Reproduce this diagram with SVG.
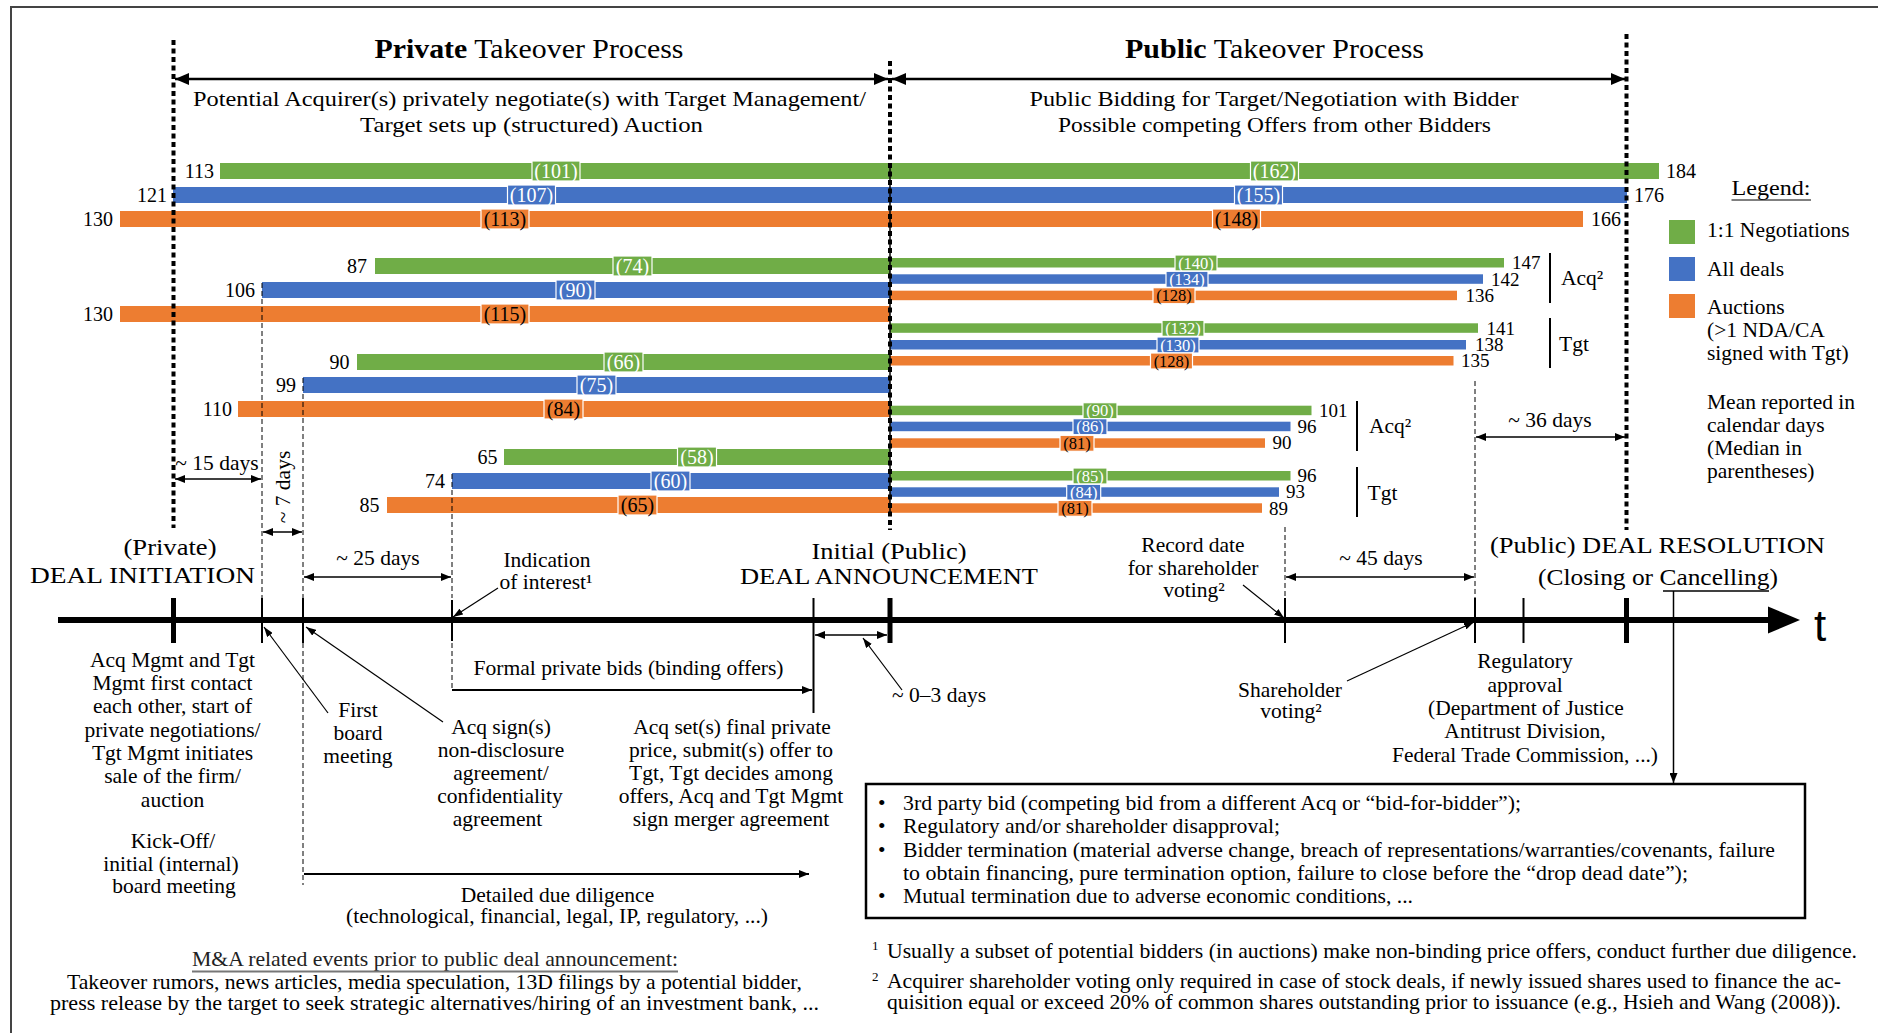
<svg xmlns="http://www.w3.org/2000/svg" width="1878" height="1033" viewBox="0 0 1878 1033">
<defs>
<style>
text{font-family:"Liberation Serif","Times New Roman",serif;font-size:21.5px;fill:#000}
.c{text-anchor:middle}.e{text-anchor:end}
.n{font-size:20px}
.m{font-size:19px}
.s{font-size:16.5px}
.cap{font-size:22.5px}
.ttl{font-size:28px}
.G{fill:#70AD47}.B{fill:#4472C4}.O{fill:#ED7D31}
.lb{stroke:#fff;stroke-width:1.2}
.w{fill:#fff}
.thd{stroke:#000;stroke-width:4;stroke-dasharray:5 3.5;fill:none}
.tnd{stroke:#000;stroke-width:1;stroke-dasharray:5 3;fill:none}
.ln{stroke:#000;fill:none}
</style>
<marker id="a" viewBox="0 0 10 8" refX="10" refY="4" markerWidth="10" markerHeight="8" markerUnits="userSpaceOnUse" orient="auto-start-reverse"><path d="M0,0 L10,4 L0,8 z"/></marker>
<marker id="p" viewBox="0 0 10 7" refX="10" refY="3.5" markerWidth="10" markerHeight="7" markerUnits="userSpaceOnUse" orient="auto-start-reverse"><path d="M0,0 L10,3.5 L0,7 z"/></marker>
<marker id="A" viewBox="0 0 14 12" refX="14" refY="6" markerWidth="14" markerHeight="12" markerUnits="userSpaceOnUse" orient="auto-start-reverse"><path d="M0,0 L14,6 L0,12 z"/></marker>
</defs>
<rect width="1878" height="1033" fill="#fff"/>
<path d="M11,1033 V7 H1878" stroke="#444" stroke-width="2" fill="none"/>

<g id="headers">
<text x="529" y="58" class="c ttl" textLength="309" lengthAdjust="spacingAndGlyphs"><tspan font-weight="bold">Private</tspan> Takeover Process</text>
<text x="1274.5" y="58" class="c ttl" textLength="299" lengthAdjust="spacingAndGlyphs"><tspan font-weight="bold">Public</tspan> Takeover Process</text>
<text x="529.5" y="106" class="c" style="font-size:22px" textLength="673" lengthAdjust="spacingAndGlyphs">Potential Acquirer(s) privately negotiate(s) with Target Management/</text>
<text x="531.5" y="132" class="c" style="font-size:22px" textLength="343" lengthAdjust="spacingAndGlyphs">Target sets up (structured) Auction</text>
<text x="1274" y="106" class="c" style="font-size:22px" textLength="489" lengthAdjust="spacingAndGlyphs">Public Bidding for Target/Negotiation with Bidder</text>
<text x="1274.5" y="132" class="c" style="font-size:22px" textLength="433" lengthAdjust="spacingAndGlyphs">Possible competing Offers from other Bidders</text>
</g>

<g id="bars-all">
<rect class="G" x="220" y="163" width="1439" height="16"/>
<rect class="B" x="173" y="187" width="1454" height="16"/>
<rect class="O" x="120" y="211" width="1463" height="16"/>
<text x="214" y="178" class="e n">113</text>
<text x="167" y="202" class="e n">121</text>
<text x="113" y="226" class="e n">130</text>
<text x="1666" y="178" class="n">184</text>
<text x="1634" y="202" class="n">176</text>
<text x="1591" y="226" class="n">166</text>
<rect class="G lb" x="532" y="161" width="48" height="20"/><text x="556" y="178" class="c n w">(101)</text>
<rect class="B lb" x="507.5" y="185" width="48" height="20"/><text x="531.5" y="202" class="c n w">(107)</text>
<rect class="O lb" x="481" y="209" width="48" height="20"/><text x="505" y="226" class="c n">(113)</text>
<rect class="G lb" x="1250.5" y="161" width="48" height="20"/><text x="1274.5" y="178" class="c n w">(162)</text>
<rect class="B lb" x="1234.5" y="185" width="48" height="20"/><text x="1258.5" y="202" class="c n w">(155)</text>
<rect class="O lb" x="1212.5" y="209" width="48" height="20"/><text x="1236.5" y="226" class="c n">(148)</text>
</g>

<g id="bars-private-acq">
<rect class="G" x="375" y="258" width="515" height="16"/>
<rect class="B" x="262" y="282" width="628" height="16"/>
<rect class="O" x="120" y="306" width="770" height="16"/>
<text x="367" y="273" class="e n">87</text>
<text x="255" y="297" class="e n">106</text>
<text x="113" y="321" class="e n">130</text>
<rect class="G lb" x="613" y="256" width="39" height="20"/><text x="632.5" y="273" class="c n w">(74)</text>
<rect class="B lb" x="556" y="280" width="39" height="20"/><text x="575.5" y="297" class="c n w">(90)</text>
<rect class="O lb" x="481" y="304" width="48" height="20"/><text x="505" y="321" class="c n">(115)</text>
</g>

<g id="bars-private-tgt">
<rect class="G" x="357" y="354" width="533" height="16"/>
<rect class="B" x="303" y="377" width="587" height="16"/>
<rect class="O" x="238" y="401" width="652" height="16"/>
<text x="349.5" y="369" class="e n">90</text>
<text x="296" y="392" class="e n">99</text>
<text x="232" y="416" class="e n">110</text>
<rect class="G lb" x="604" y="352" width="39" height="20"/><text x="623.5" y="369" class="c n w">(66)</text>
<rect class="B lb" x="577" y="375" width="39" height="20"/><text x="596.5" y="392" class="c n w">(75)</text>
<rect class="O lb" x="544" y="399" width="39" height="20"/><text x="563.5" y="416" class="c n">(84)</text>
</g>

<g id="bars-private-last">
<rect class="G" x="504" y="449" width="386" height="16"/>
<rect class="B" x="452" y="473" width="438" height="16"/>
<rect class="O" x="387" y="497" width="503" height="16"/>
<text x="497.5" y="464" class="e n">65</text>
<text x="445" y="488" class="e n">74</text>
<text x="379.5" y="512" class="e n">85</text>
<rect class="G lb" x="677.5" y="447" width="39" height="20"/><text x="697" y="464" class="c n w">(58)</text>
<rect class="B lb" x="651" y="471" width="39" height="20"/><text x="670.5" y="488" class="c n w">(60)</text>
<rect class="O lb" x="618" y="495" width="39" height="20"/><text x="637.5" y="512" class="c n">(65)</text>
</g>

<g id="bars-public-acq1">
<rect class="G" x="890" y="258" width="614" height="9.5"/>
<rect class="B" x="890" y="274.3" width="593" height="9.5"/>
<rect class="O" x="890" y="290.7" width="567" height="9.5"/>
<text x="1512" y="269" class="m">147</text>
<text x="1491" y="285.5" class="m">142</text>
<text x="1465.5" y="302" class="m">136</text>
<rect class="G lb" x="1175" y="255" width="42" height="16"/><text x="1196" y="268.5" class="c s w">(140)</text>
<rect class="B lb" x="1166" y="271.3" width="42" height="16"/><text x="1187" y="284.8" class="c s w">(134)</text>
<rect class="O lb" x="1153" y="287.7" width="42" height="16"/><text x="1174" y="301.2" class="c s">(128)</text>
<path class="ln" stroke-width="2" d="M1550,253 V303"/>
<text x="1561" y="285">Acq²</text>
</g>

<g id="bars-public-tgt1">
<rect class="G" x="890" y="323.3" width="588" height="9.5"/>
<rect class="B" x="890" y="340" width="576" height="9.5"/>
<rect class="O" x="890" y="356" width="563.5" height="9.5"/>
<text x="1486.5" y="334.5" class="m">141</text>
<text x="1475" y="351" class="m">138</text>
<text x="1461" y="367" class="m">135</text>
<rect class="G lb" x="1162" y="320.3" width="42" height="16"/><text x="1183" y="333.8" class="c s w">(132)</text>
<rect class="B lb" x="1157" y="337" width="42" height="16"/><text x="1178" y="350.5" class="c s w">(130)</text>
<rect class="O lb" x="1150.5" y="353" width="42" height="16"/><text x="1171.5" y="366.5" class="c s">(128)</text>
<path class="ln" stroke-width="2" d="M1550,318 V368"/>
<text x="1559" y="351">Tgt</text>
</g>

<g id="bars-public-acq2">
<rect class="G" x="890" y="405.7" width="421.5" height="9.5"/>
<rect class="B" x="890" y="421.7" width="400.5" height="9.5"/>
<rect class="O" x="890" y="438.3" width="375" height="9.5"/>
<text x="1319" y="416.5" class="m">101</text>
<text x="1297.5" y="432.5" class="m">96</text>
<text x="1272.5" y="449" class="m">90</text>
<rect class="G lb" x="1083" y="402.7" width="34" height="16"/><text x="1100" y="416.2" class="c s w">(90)</text>
<rect class="B lb" x="1073" y="418.7" width="34" height="16"/><text x="1090" y="432.2" class="c s w">(86)</text>
<rect class="O lb" x="1060" y="435.3" width="34" height="16"/><text x="1077" y="448.8" class="c s">(81)</text>
<path class="ln" stroke-width="2" d="M1357,401 V451"/>
<text x="1369" y="433">Acq²</text>
</g>

<g id="bars-public-tgt2">
<rect class="G" x="890" y="471" width="400.5" height="9.5"/>
<rect class="B" x="890" y="487.3" width="389" height="9.5"/>
<rect class="O" x="890" y="503.3" width="372" height="9.5"/>
<text x="1297.5" y="482" class="m">96</text>
<text x="1286" y="498" class="m">93</text>
<text x="1269" y="514.5" class="m">89</text>
<rect class="G lb" x="1073" y="468" width="34" height="16"/><text x="1090" y="481.5" class="c s w">(85)</text>
<rect class="B lb" x="1066.7" y="484.3" width="34" height="16"/><text x="1083.7" y="497.8" class="c s w">(84)</text>
<rect class="O lb" x="1058" y="500.3" width="34" height="16"/><text x="1075" y="513.8" class="c s">(81)</text>
<path class="ln" stroke-width="2" d="M1357,467 V517"/>
<text x="1367.5" y="500">Tgt</text>
</g>

<g id="legend">
<text x="1731.5" y="195" style="font-size:22px" textLength="79" lengthAdjust="spacingAndGlyphs">Legend:</text>
<path d="M1731.5,200 H1811" stroke="#000" stroke-width="1.2"/>
<rect class="G" x="1669" y="220" width="26" height="24"/>
<rect class="B" x="1669" y="257" width="26" height="24"/>
<rect class="O" x="1669" y="294" width="26" height="24"/>
<text x="1707" y="237">1:1 Negotiations</text>
<text x="1707" y="276">All deals</text>
<text x="1707" y="314">Auctions</text>
<text x="1707" y="337">(&gt;1 NDA/CA</text>
<text x="1707" y="360">signed with Tgt)</text>
<text x="1707" y="409">Mean reported in</text>
<text x="1707" y="432">calendar days</text>
<text x="1707" y="455">(Median in</text>
<text x="1707" y="478">parentheses)</text>
</g>

<g id="connectors">
<path class="ln" stroke-width="1.5" d="M890,163 V513"/>
<path class="thd" d="M173.5,40 V528"/>
<path class="thd" d="M890,61 V530"/>
<path class="thd" d="M1626.5,34 V530"/>
<path class="ln" stroke-width="2.5" d="M175,79 H888" marker-start="url(#A)" marker-end="url(#A)"/>
<path class="ln" stroke-width="2.5" d="M892,79 H1625" marker-start="url(#A)" marker-end="url(#A)"/>
<path class="tnd" d="M262,283 V598"/>
<path class="tnd" d="M303,378 V598 M303,643 V885"/>
<path class="tnd" d="M452,474 V598 M452,643 V690"/>
<path class="tnd" d="M1285,527 V598"/>
<path class="tnd" d="M1475,381 V598"/>
<path class="ln" stroke-width="1.5" d="M175,479 H261" marker-start="url(#a)" marker-end="url(#a)"/>
<path class="ln" stroke-width="1.5" d="M263,532 H302" marker-start="url(#a)" marker-end="url(#a)"/>
<path class="ln" stroke-width="1.5" d="M304,577 H451" marker-start="url(#a)" marker-end="url(#a)"/>
<path class="ln" stroke-width="1.5" d="M1286,577 H1474" marker-start="url(#a)" marker-end="url(#a)"/>
<path class="ln" stroke-width="1.5" d="M1476,437 H1625" marker-start="url(#a)" marker-end="url(#a)"/>
<path class="ln" stroke-width="1.5" d="M815,635 H887" marker-start="url(#a)" marker-end="url(#a)"/>
<path class="ln" stroke-width="6" d="M58,620 H1772"/>
<path d="M1768,606.5 L1800,620 L1768,633.5 z"/>
<path class="ln" stroke-width="5" d="M173.5,598 V643 M890,598 V643 M1626.5,598 V643"/>
<path class="ln" stroke-width="2" d="M262,598 V643 M303,598 V643 M452,600 V641 M1285,598 V643 M1475,598 V643 M1523.5,598 V643 M813.5,598 V713"/>
<path class="ln" stroke-width="2" d="M452,690 H812" marker-end="url(#a)"/>
<path class="ln" stroke-width="2" d="M304,874 H809" marker-end="url(#a)"/>
<path class="ln" stroke-width="1.2" d="M498,588 L453,617" marker-end="url(#p)"/>
<path class="ln" stroke-width="1.2" d="M328,713 L264,627" marker-end="url(#p)"/>
<path class="ln" stroke-width="1.2" d="M443,722 L306,627" marker-end="url(#p)"/>
<path class="ln" stroke-width="1.2" d="M902,690 L863,638" marker-end="url(#p)"/>
<path class="ln" stroke-width="1.2" d="M1243,585 L1284,618" marker-end="url(#p)"/>
<path class="ln" stroke-width="1.2" d="M1347,681 L1474,622" marker-end="url(#p)"/>
<path class="ln" stroke-width="1.5" d="M1673.5,591 V783" marker-end="url(#a)"/>
</g>

<g id="time-labels">
<text x="1814" y="641" style="font-family:'Liberation Sans',Arial,sans-serif;font-size:44px">t</text>
<text x="217" y="470" class="c">~ 15 days</text>
<text transform="translate(290,487) rotate(-90)" class="c">~ 7 days</text>
<text x="378" y="565" class="c">~ 25 days</text>
<text x="1381" y="565" class="c">~ 45 days</text>
<text x="1550" y="427" class="c">~ 36 days</text>
<text x="892" y="702">~ 0–3 days</text>
</g>

<g id="deal-initiation">
<text x="170" y="555" class="c cap" textLength="93" lengthAdjust="spacingAndGlyphs">(Private)</text>
<text x="142.5" y="583" class="c cap" textLength="225" lengthAdjust="spacingAndGlyphs">DEAL INITIATION</text>
</g>
<g id="indication">
<text x="547" y="567" class="c">Indication</text>
<text x="546" y="589" class="c">of interest¹</text>
</g>
<g id="deal-announcement">
<text x="889" y="559" class="c cap" textLength="155" lengthAdjust="spacingAndGlyphs">Initial (Public)</text>
<text x="889" y="584" class="c cap" textLength="298" lengthAdjust="spacingAndGlyphs">DEAL ANNOUNCEMENT</text>
</g>
<g id="record-date">
<text x="1193" y="552" class="c">Record date</text>
<text x="1193" y="575" class="c">for shareholder</text>
<text x="1194" y="597" class="c">voting²</text>
</g>
<g id="deal-resolution">
<text x="1490" y="553" class="cap" textLength="335" lengthAdjust="spacingAndGlyphs">(Public) DEAL RESOLUTION</text>
<text x="1658" y="585" class="c cap" textLength="240" lengthAdjust="spacingAndGlyphs">(Closing or Cancelling)</text>
<path d="M1663,591 H1769" stroke="#000" stroke-width="1.5"/>
</g>

<g id="first-contact">
<text x="172.5" y="667" class="c">Acq Mgmt and Tgt</text>
<text x="172.5" y="690" class="c">Mgmt first contact</text>
<text x="172.5" y="713" class="c">each other, start of</text>
<text x="172.5" y="737" class="c">private negotiations/</text>
<text x="172.5" y="760" class="c">Tgt Mgmt initiates</text>
<text x="172.5" y="783" class="c">sale of the firm/</text>
<text x="172.5" y="807" class="c">auction</text>
<text x="173" y="848" class="c">Kick-Off/</text>
<text x="171" y="871" class="c">initial (internal)</text>
<text x="174" y="893" class="c">board meeting</text>
</g>
<g id="first-board">
<text x="358" y="717" class="c">First</text>
<text x="358" y="740" class="c">board</text>
<text x="358" y="763" class="c">meeting</text>
</g>
<g id="nda">
<text x="501" y="734" class="c">Acq sign(s)</text>
<text x="501" y="757" class="c">non-disclosure</text>
<text x="501" y="780" class="c">agreement/</text>
<text x="500" y="803" class="c">confidentiality</text>
<text x="497.5" y="826" class="c">agreement</text>
</g>
<g id="formal-bids">
<text x="628.5" y="675" class="c" textLength="310" lengthAdjust="spacingAndGlyphs">Formal private bids (binding offers)</text>
</g>
<g id="final-price">
<text x="732" y="734" class="c">Acq set(s) final private</text>
<text x="731" y="757" class="c">price, submit(s) offer to</text>
<text x="731" y="780" class="c">Tgt, Tgt decides among</text>
<text x="731" y="803" class="c">offers, Acq and Tgt Mgmt</text>
<text x="731" y="826" class="c">sign merger agreement</text>
</g>
<g id="shareholder-voting">
<text x="1290" y="697" class="c">Shareholder</text>
<text x="1291" y="718" class="c">voting²</text>
</g>
<g id="regulatory">
<text x="1525" y="668" class="c">Regulatory</text>
<text x="1525" y="692" class="c">approval</text>
<text x="1526" y="715" class="c">(Department of Justice</text>
<text x="1525" y="738" class="c">Antitrust Division,</text>
<text x="1525" y="762" class="c" textLength="266" lengthAdjust="spacingAndGlyphs">Federal Trade Commission, ...)</text>
</g>
<g id="due-diligence">
<text x="557.5" y="902" class="c">Detailed due diligence</text>
<text x="557" y="923" class="c" textLength="422" lengthAdjust="spacingAndGlyphs">(technological, financial, legal, IP, regulatory, ...)</text>
</g>
<g id="ma-events">
<text x="192" y="966" style="fill:#222" textLength="486" lengthAdjust="spacingAndGlyphs">M&amp;A related events prior to public deal announcement:</text>
<path d="M192,971.5 H678" stroke="#777" stroke-width="2"/>
<text x="67" y="989" textLength="735" lengthAdjust="spacingAndGlyphs">Takeover rumors, news articles, media speculation, 13D filings by a potential bidder,</text>
<text x="50" y="1010" textLength="769" lengthAdjust="spacingAndGlyphs">press release by the target to seek strategic alternatives/hiring of an investment bank, ...</text>
</g>

<g id="cancel-box">
<rect x="866" y="784" width="939" height="134" fill="none" stroke="#000" stroke-width="2.5"/>
<text x="878" y="810">•</text><text x="903" y="810" textLength="618" lengthAdjust="spacingAndGlyphs">3rd party bid (competing bid from a different Acq or “bid-for-bidder”);</text>
<text x="878" y="833">•</text><text x="903" y="833" textLength="377" lengthAdjust="spacingAndGlyphs">Regulatory and/or shareholder disapproval;</text>
<text x="878" y="857">•</text><text x="903" y="857" textLength="872" lengthAdjust="spacingAndGlyphs">Bidder termination (material adverse change, breach of representations/warranties/covenants, failure</text>
<text x="903" y="880" textLength="785" lengthAdjust="spacingAndGlyphs">to obtain financing, pure termination option, failure to close before the “drop dead date”);</text>
<text x="878" y="903">•</text><text x="903" y="903" textLength="510" lengthAdjust="spacingAndGlyphs">Mutual termination due to adverse economic conditions, ...</text>
</g>

<g id="footnotes">
<text x="872" y="950" style="font-size:13px">1</text>
<text x="887" y="958" textLength="970" lengthAdjust="spacingAndGlyphs">Usually a subset of potential bidders (in auctions) make non-binding price offers, conduct further due diligence.</text>
<text x="872" y="981" style="font-size:13px">2</text>
<text x="887" y="988" textLength="954" lengthAdjust="spacingAndGlyphs">Acquirer shareholder voting only required in case of stock deals, if newly issued shares used to finance the ac-</text>
<text x="887" y="1009" textLength="954" lengthAdjust="spacingAndGlyphs">quisition equal or exceed 20% of common shares outstanding prior to issuance (e.g., Hsieh and Wang (2008)).</text>
</g>
</svg>
